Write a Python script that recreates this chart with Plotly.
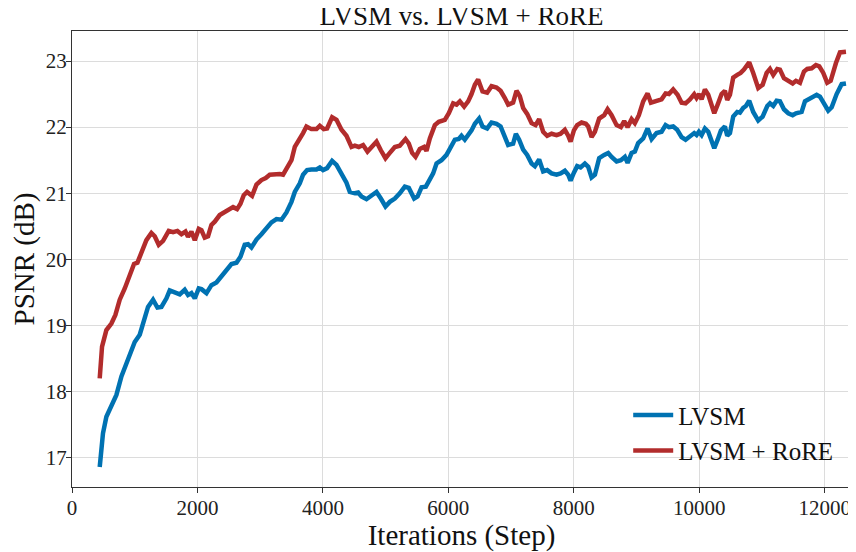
import plotly.graph_objects as go

series_names = ["LVSM", "LVSM + RoRE"]

lvsm_steps = [442, 494, 548, 628, 708, 788, 868, 947, 1000, 1080, 1159, 1212, 1292, 1362, 1426, 1506, 1558, 1638, 1718, 1797,
              1850, 1904, 1957, 2021, 2064, 2144, 2223, 2303, 2383, 2436, 2542, 2622, 2686, 2754, 2807, 2861, 2941, 3020, 3100, 3180,
              3260, 3340, 3419, 3499, 3552, 3632, 3684, 3748, 3818, 3898, 3951, 4003, 4067, 4147, 4217, 4297, 4376, 4429, 4509, 4562,
              4615, 4695, 4775, 4855, 4924, 4998, 5067, 5147, 5226, 5306, 5370, 5413, 5455, 5509, 5573, 5641, 5705, 5758, 5812, 5891,
              5971, 6040, 6104, 6167, 6210, 6263, 6316, 6370, 6423, 6491, 6545, 6619, 6689, 6769, 6833, 6901, 6954, 7033, 7077, 7129,
              7193, 7257, 7327, 7380, 7448, 7512, 7576, 7646, 7726, 7790, 7858, 7911, 7949, 8002, 8054, 8108, 8177, 8230, 8284, 8337,
              8405, 8485, 8549, 8603, 8683, 8751, 8815, 8858, 8922, 8974, 9027, 9107, 9177, 9241, 9320, 9400, 9464, 9517, 9585, 9649,
              9719, 9783, 9852, 9920, 9958, 9995, 10038, 10091, 10144, 10187, 10240, 10294, 10346, 10410, 10447, 10490, 10542, 10606, 10649, 10702,
              10745, 10797, 10861, 10941, 11011, 11085, 11128, 11180, 11234, 11287, 11351, 11420, 11490, 11542, 11595, 11633, 11686, 11739, 11793, 11872,
              11925, 11989, 12057, 12112, 12191, 12271, 12340]
lvsm_psnr = [16.86, 17.37, 17.62, 17.77, 17.95, 18.23, 18.43, 18.63, 18.75, 18.86, 19.08, 19.28, 19.39, 19.27, 19.28, 19.41, 19.53, 19.50, 19.47, 19.54,
             19.46, 19.49, 19.41, 19.56, 19.55, 19.49, 19.61, 19.65, 19.74, 19.80, 19.93, 19.95, 20.04, 20.22, 20.23, 20.18, 20.30, 20.38, 20.47, 20.56,
             20.61, 20.60, 20.71, 20.87, 21.02, 21.15, 21.28, 21.35, 21.36, 21.36, 21.39, 21.35, 21.38, 21.49, 21.43, 21.30, 21.16, 21.02, 21.00, 21.01,
             20.95, 20.91, 20.97, 21.02, 20.92, 20.80, 20.87, 20.92, 21.00, 21.10, 21.08, 21.00, 20.92, 20.95, 21.09, 21.10, 21.23, 21.30, 21.45, 21.50,
             21.58, 21.72, 21.81, 21.82, 21.87, 21.81, 21.88, 21.95, 22.05, 22.13, 22.01, 21.98, 22.07, 22.05, 22.01, 21.85, 21.73, 21.75, 21.90, 21.81,
             21.66, 21.58, 21.45, 21.41, 21.51, 21.33, 21.35, 21.30, 21.28, 21.30, 21.34, 21.28, 21.19, 21.31, 21.41, 21.39, 21.45, 21.40, 21.24, 21.28,
             21.53, 21.58, 21.61, 21.55, 21.48, 21.50, 21.55, 21.46, 21.61, 21.63, 21.76, 21.83, 21.98, 21.82, 21.91, 21.93, 22.03, 22.00, 22.01, 21.96,
             21.85, 21.81, 21.86, 21.91, 21.88, 21.93, 21.88, 21.98, 21.93, 21.81, 21.68, 21.81, 21.95, 22.01, 21.87, 21.91, 22.16, 22.23, 22.22, 22.29,
             22.32, 22.40, 22.23, 22.10, 22.16, 22.32, 22.36, 22.32, 22.40, 22.39, 22.27, 22.21, 22.18, 22.21, 22.23, 22.23, 22.39, 22.42, 22.44, 22.49,
             22.46, 22.37, 22.25, 22.30, 22.50, 22.65, 22.66]

rore_steps = [442, 479, 548, 628, 692, 761, 841, 920, 989, 1043, 1107, 1186, 1266, 1319, 1383, 1452, 1542, 1611, 1681, 1745,
              1809, 1850, 1904, 1957, 2021, 2064, 2116, 2169, 2223, 2276, 2355, 2425, 2515, 2568, 2632, 2686, 2738, 2791, 2871, 2941,
              3020, 3089, 3153, 3233, 3313, 3365, 3445, 3499, 3552, 3632, 3684, 3738, 3818, 3898, 3951, 4014, 4067, 4147, 4217, 4297,
              4376, 4456, 4509, 4572, 4641, 4711, 4775, 4855, 4924, 4998, 5067, 5147, 5226, 5317, 5370, 5423, 5477, 5545, 5614, 5652,
              5705, 5785, 5848, 5944, 6008, 6077, 6131, 6184, 6252, 6316, 6370, 6423, 6475, 6545, 6619, 6689, 6769, 6833, 6901, 6954,
              7033, 7087, 7140, 7193, 7257, 7327, 7391, 7448, 7512, 7576, 7646, 7726, 7790, 7858, 7911, 7949, 8002, 8054, 8124, 8193,
              8230, 8284, 8337, 8405, 8485, 8539, 8603, 8683, 8751, 8804, 8858, 8922, 8974, 9038, 9107, 9177, 9230, 9320, 9400, 9464,
              9517, 9585, 9655, 9719, 9783, 9852, 9920, 9958, 10000, 10038, 10091, 10144, 10198, 10240, 10294, 10357, 10410, 10447, 10490, 10542,
              10606, 10660, 10713, 10756, 10797, 10861, 10941, 11011, 11075, 11128, 11180, 11244, 11287, 11351, 11420, 11490, 11542, 11606, 11670, 11722,
              11793, 11861, 11914, 11978, 12041, 12096, 12180, 12244, 12340]
rore_psnr = [18.20, 18.68, 18.93, 19.03, 19.16, 19.39, 19.56, 19.76, 19.93, 19.95, 20.09, 20.29, 20.40, 20.35, 20.22, 20.28, 20.43, 20.41, 20.43, 20.38,
             20.42, 20.34, 20.42, 20.29, 20.46, 20.44, 20.33, 20.35, 20.52, 20.57, 20.67, 20.71, 20.75, 20.79, 20.76, 20.84, 20.97, 21.02, 20.96, 21.13,
             21.20, 21.23, 21.28, 21.29, 21.29, 21.28, 21.41, 21.50, 21.70, 21.81, 21.91, 22.01, 21.97, 21.97, 22.02, 21.97, 21.98, 22.15, 22.11, 21.96,
             21.87, 21.70, 21.72, 21.70, 21.73, 21.63, 21.70, 21.78, 21.65, 21.53, 21.61, 21.70, 21.72, 21.82, 21.75, 21.61, 21.55, 21.67, 21.70, 21.64,
             21.83, 22.03, 22.08, 22.11, 22.21, 22.36, 22.34, 22.39, 22.31, 22.39, 22.50, 22.64, 22.72, 22.54, 22.52, 22.62, 22.60, 22.55, 22.44, 22.34,
             22.37, 22.55, 22.47, 22.29, 22.20, 22.06, 22.03, 22.12, 21.93, 21.87, 21.90, 21.88, 21.90, 21.96, 21.87, 21.78, 21.95, 22.03, 22.07, 22.05,
             22.01, 21.85, 21.93, 22.13, 22.18, 22.27, 22.18, 22.03, 22.00, 22.09, 22.00, 22.12, 22.06, 22.18, 22.39, 22.51, 22.37, 22.40, 22.42, 22.51,
             22.50, 22.57, 22.49, 22.37, 22.36, 22.42, 22.50, 22.44, 22.50, 22.42, 22.57, 22.49, 22.34, 22.21, 22.34, 22.50, 22.55, 22.41, 22.49, 22.75,
             22.79, 22.82, 22.87, 22.92, 22.98, 22.82, 22.59, 22.64, 22.82, 22.88, 22.79, 22.88, 22.87, 22.74, 22.69, 22.66, 22.70, 22.67, 22.84, 22.88,
             22.89, 22.94, 22.92, 22.82, 22.67, 22.70, 22.97, 23.13, 23.14]

x_ticks = [0, 2000, 4000, 6000, 8000, 10000, 12000]
y_ticks = [17, 18, 19, 20, 21, 22, 23]

FONT = "Liberation Serif"
BLUE = "#0072b2"
RED = "#b22c2c"

fig = go.Figure()
fig.add_trace(go.Scatter(x=lvsm_steps, y=lvsm_psnr, mode="lines", name=series_names[0],
                         line=dict(color=BLUE, width=4.5), legendgroup="a"))
fig.add_trace(go.Scatter(x=rore_steps, y=rore_psnr, mode="lines", name=series_names[1],
                         line=dict(color=RED, width=4.5), legendgroup="b"))

axis_common = dict(showgrid=True, gridcolor="#dcdcdc", gridwidth=1, zeroline=False,
                   showline=True, linecolor="#333333", linewidth=1.2,
                   ticks="outside", ticklen=5, tickwidth=1, tickcolor="#333333",
                   tickfont=dict(family=FONT, size=21, color="#222222"))

# page body has an 8px margin, so the figure is 8px smaller than the window
fig.update_layout(
    width=848, height=544,
    margin=dict(l=64, r=5, t=23, b=65, autoexpand=False),
    paper_bgcolor="white", plot_bgcolor="white",
    font=dict(family=FONT, color="#111111"),
    title=dict(text="LVSM vs. LVSM + RoRE", x=0.5, xref="paper", xanchor="center",
               y=0.987, yref="container", yanchor="middle",
               font=dict(family=FONT, size=27, color="#111111")),
    xaxis=dict(range=[0, 12420], tickvals=x_ticks, ticktext=[str(v) for v in x_ticks],
               mirror=True, automargin=False, ticklabelstandoff=-3,
               title=dict(text="Iterations (Step)", standoff=0,
                          font=dict(family=FONT, size=29)),
               **axis_common),
    yaxis=dict(range=[16.557, 23.454], tickvals=y_ticks, ticktext=[str(v) for v in y_ticks],
               automargin=False, ticklabelstandoff=-5,
               title=dict(text="PSNR (dB)", standoff=8, font=dict(family=FONT, size=29)),
               **axis_common),
    legend=dict(x=0.714, y=0.03, xanchor="left", yanchor="bottom",
                bgcolor="rgba(255,255,255,0)", borderwidth=0,
                font=dict(family=FONT, size=25, color="#111111"),
                tracegroupgap=0, itemwidth=40),
)

fig.write_html("out.html")
